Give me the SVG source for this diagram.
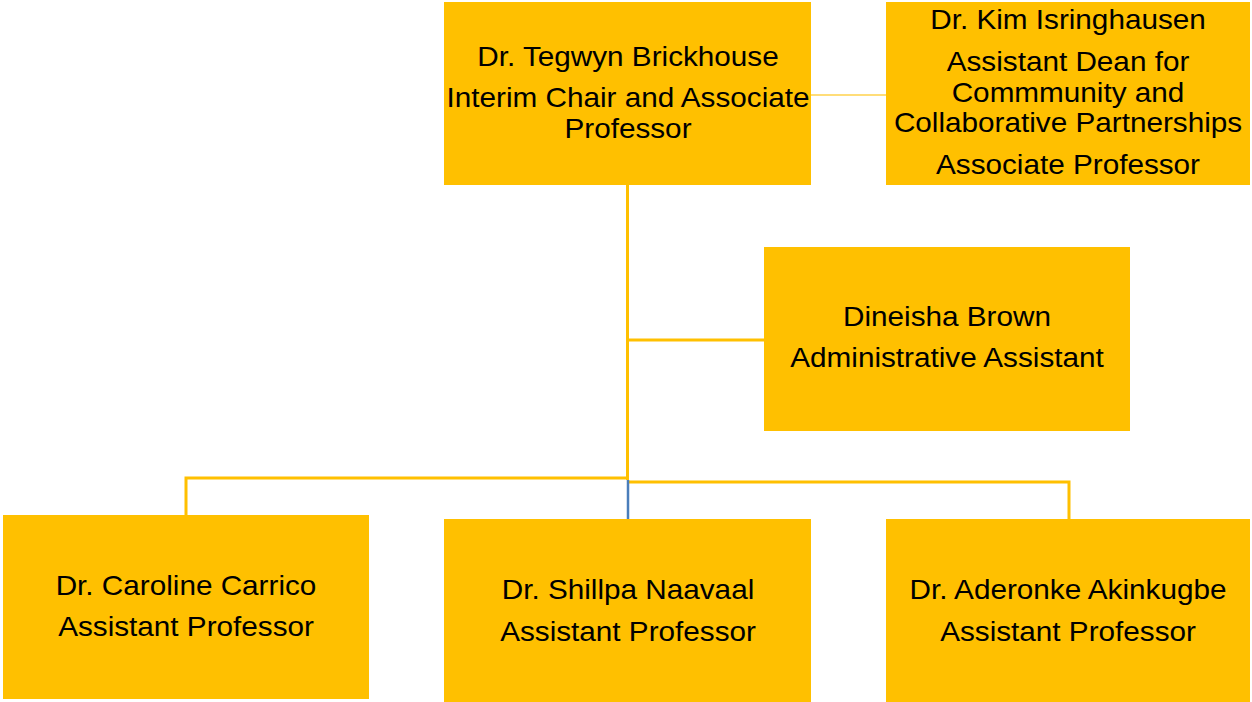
<svg xmlns="http://www.w3.org/2000/svg" width="1252" height="702" viewBox="0 0 1252 702">
<style>
.box{fill:#FFC000;}
text{font-family:'Liberation Sans',Arial,sans-serif;font-size:27.5px;fill:#000;text-anchor:middle;}
.c{fill:none;stroke:#FFC000;stroke-width:3;}
</style>
<rect width="1252" height="702" fill="#fff"/>
<g id="connectors">
<line class="c" x1="811" y1="95" x2="886" y2="95" style="stroke:#FFD24D;stroke-width:1.6"/>
<line class="c" x1="627.5" y1="185" x2="627.5" y2="480"/>
<line class="c" x1="627.5" y1="340" x2="764" y2="340"/>
<polyline class="c" points="627.5,478 186,478 186,515"/>
<polyline class="c" points="629,482 1069,482 1069,519"/>
<line class="c" x1="628" y1="480" x2="628" y2="519" style="stroke:#4A7EBB;stroke-width:2.5"/>
</g>
<g id="brickhouse">
<rect class="box" x="444" y="2" width="367" height="183"/>
<g transform="translate(628 0) scale(1.08 1)">
<text x="0" y="66">Dr. Tegwyn Brickhouse</text>
<text x="0" y="107">Interim Chair and Associate</text>
<text x="0" y="138">Professor</text>
</g>
</g>
<g id="isringhausen">
<rect class="box" x="886" y="2" width="364" height="183"/>
<g transform="translate(1068 0) scale(1.08 1)">
<text x="0" y="29">Dr. Kim Isringhausen</text>
<text x="0" y="71">Assistant Dean for</text>
<text x="0" y="102">Commmunity and</text>
<text x="0" y="132">Collaborative Partnerships</text>
<text x="0" y="174">Associate Professor</text>
</g>
</g>
<g id="brown">
<rect class="box" x="764" y="247" width="366" height="184"/>
<g transform="translate(947 0) scale(1.08 1)">
<text x="0" y="326">Dineisha Brown</text>
<text x="0" y="367">Administrative Assistant</text>
</g>
</g>
<g id="carrico">
<rect class="box" x="3" y="515" width="366" height="184"/>
<g transform="translate(186 0) scale(1.08 1)">
<text x="0" y="595">Dr. Caroline Carrico</text>
<text x="0" y="636">Assistant Professor</text>
</g>
</g>
<g id="naavaal">
<rect class="box" x="444" y="519" width="367" height="183"/>
<g transform="translate(628 0) scale(1.08 1)">
<text x="0" y="599">Dr. Shillpa Naavaal</text>
<text x="0" y="641">Assistant Professor</text>
</g>
</g>
<g id="akinkugbe">
<rect class="box" x="886" y="519" width="364" height="183"/>
<g transform="translate(1068 0) scale(1.08 1)">
<text x="0" y="599">Dr. Aderonke Akinkugbe</text>
<text x="0" y="641">Assistant Professor</text>
</g>
</g>
</svg>
